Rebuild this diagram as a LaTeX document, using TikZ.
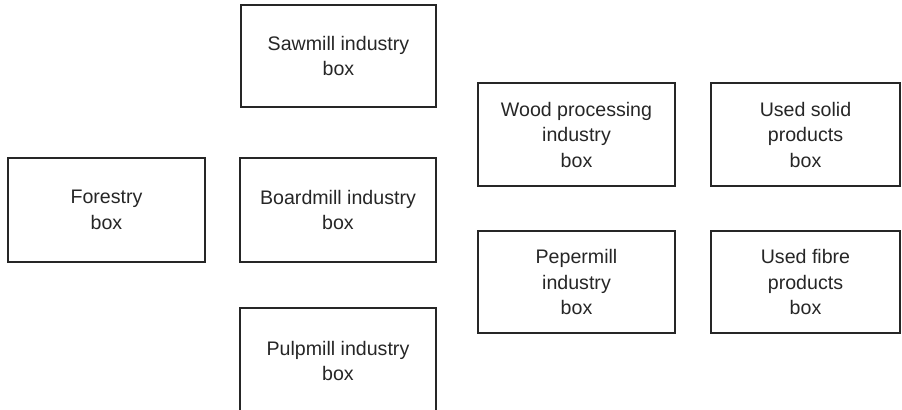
\documentclass[tikz,border=0pt]{standalone}
\usepackage{fontspec}
\setmainfont{Liberation Sans}
\begin{document}
\begin{tikzpicture}[x=1bp,y=-1bp,
  boxnode/.style={draw=black!85, line width=1.4bp, text=black!85, align=center,
    inner sep=0pt, font=\fontsize{19.6bp}{25.5bp}\selectfont}]
\useasboundingbox (0,0) rectangle (902,409);
\clip (0,0) rectangle (902,409);
\node[boxnode, minimum width=197bp, minimum height=104bp] (forestry) at (106.5,210) {Forestry\\box};
\node[boxnode, minimum width=195bp, minimum height=102bp] (sawmill) at (338.5,56) {Sawmill industry\\box};
\node[boxnode, minimum width=196bp, minimum height=104bp] (boardmill) at (338,210) {Boardmill industry\\box};
\node[boxnode, minimum width=196bp, minimum height=106bp] (pulpmill) at (338,361) {Pulpmill industry\\box};
\node[boxnode, minimum width=197bp, minimum height=103bp] (wood) at (576.5,134.5) {Wood processing\\industry\\box};
\node[boxnode, minimum width=189bp, minimum height=103bp] (usedsolid) at (805.5,134.5) {Used solid\\products\\box};
\node[boxnode, minimum width=197bp, minimum height=102bp] (pepermill) at (576.5,282) {Pepermill\\industry\\box};
\node[boxnode, minimum width=189bp, minimum height=102bp] (usedfibre) at (805.5,282) {Used fibre\\products\\box};
\end{tikzpicture}
\end{document}
